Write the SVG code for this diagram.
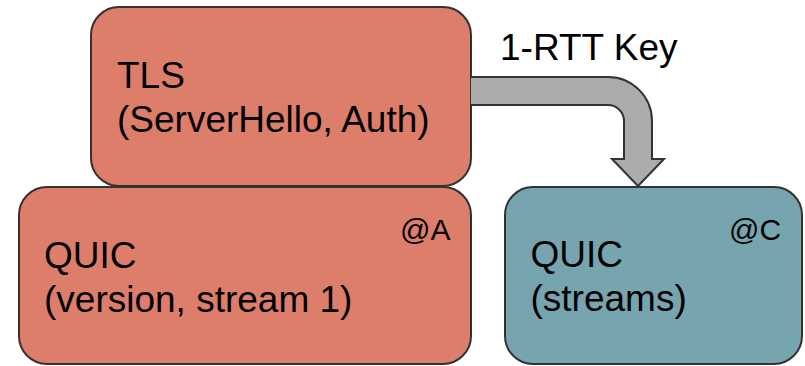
<svg xmlns="http://www.w3.org/2000/svg" width="805" height="366" viewBox="0 0 805 366">
  <style>
    .box { stroke: #333333; stroke-width: 2; }
    .red { fill: #dd7e6b; }
    .teal { fill: #76a5af; }
    .lbl { font-family: "Liberation Sans", Arial, sans-serif; font-size: 37px; fill: #000000; }
    .tag { font-family: "Liberation Sans", Arial, sans-serif; font-size: 30px; fill: #000000; }
    .flow { fill: #acacac; stroke: #333333; stroke-width: 2; stroke-linejoin: miter; }
  </style>
  <rect width="805" height="366" fill="#ffffff"/>

  <g id="quic-a">
    <rect class="box red" x="19" y="187" width="452" height="177" rx="28" ry="28"/>
    <text class="tag" x="400" y="239.5">@A</text>
    <text class="lbl" x="44" y="268">QUIC</text>
    <text class="lbl" x="44" y="312">(version, stream 1)</text>
  </g>

  <g id="tls">
    <rect class="box red" x="91" y="7" width="380" height="179" rx="28" ry="28"/>
    <text class="lbl" x="117" y="87.5">TLS</text>
    <text class="lbl" x="117" y="131.5">(ServerHello, Auth)</text>
  </g>

  <g id="quic-c">
    <rect class="box teal" x="505" y="187" width="297" height="177" rx="28" ry="28"/>
    <text class="tag" x="729" y="239.5">@C</text>
    <text class="lbl" x="530.5" y="267">QUIC</text>
    <text class="lbl" x="530.5" y="311">(streams)</text>
  </g>

  <g id="connectors">
    <path class="flow" d="M471,77 H608 A44,44 0 0 1 652,121 V159 H664 L638,186 L612,159 H624 V121 A16,16 0 0 0 608,105 H471"/>
    <text class="lbl" x="500" y="59.5">1-RTT Key</text>
  </g>
</svg>
